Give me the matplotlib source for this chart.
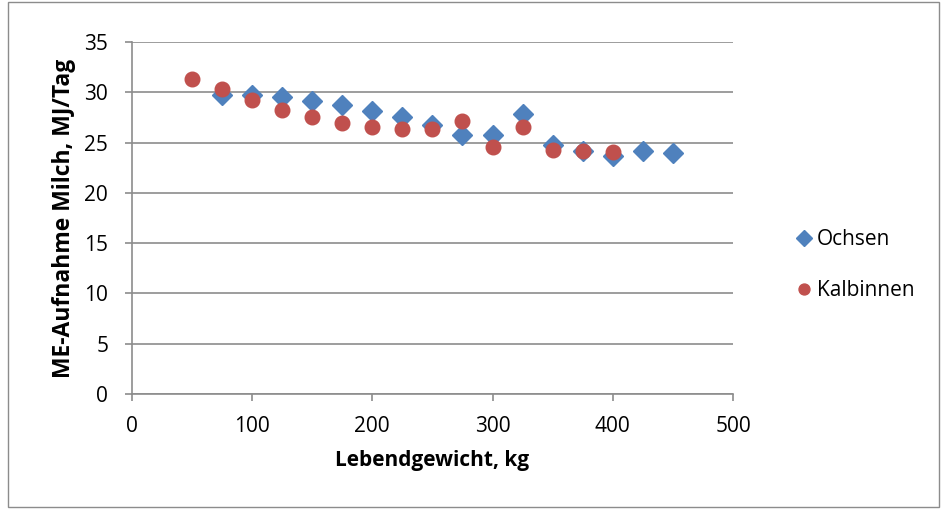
import matplotlib.pyplot as plt
from matplotlib.patches import Rectangle

plt.rcParams['font.family'] = ['Open Sans', 'DejaVu Sans']

# data
ochsen_x = [75, 100, 125, 150, 175, 200, 225, 250, 275, 300, 325, 350, 375, 400, 425, 450]
ochsen_y = [29.7, 29.7, 29.5, 29.1, 28.7, 28.1, 27.5, 26.7, 25.8, 25.8, 27.8, 24.8, 24.2, 23.7, 24.2, 24.0]
kalb_x = [50, 75, 100, 125, 150, 175, 200, 225, 250, 275, 300, 325, 350, 375, 400]
kalb_y = [31.3, 30.3, 29.2, 28.2, 27.5, 26.9, 26.55, 26.35, 26.35, 27.1, 24.6, 26.5, 24.3, 24.2, 24.1]

fig = plt.figure(figsize=(9.41, 5.09), dpi=100)
ax = fig.add_axes([0.140, 0.226, 0.639, 0.6915])

ax.plot(ochsen_x, ochsen_y, 'D', color='#4F81BD', markersize=10.5, label='Ochsen', zorder=3)
ax.plot(kalb_x, kalb_y, 'o', color='#C0504D', markersize=10.5, label='Kalbinnen', zorder=4)

ax.set_xlim(0, 500)
ax.set_ylim(0, 35)
ax.set_xticks(range(0, 501, 100))
ax.set_yticks(range(0, 36, 5))
ax.grid(axis='y', color='#8c8c8c', linewidth=1.2)
ax.set_axisbelow(True)
for s in ['top', 'right']:
    ax.spines[s].set_visible(False)
for s in ['left', 'bottom']:
    ax.spines[s].set_color('#8c8c8c')
    ax.spines[s].set_linewidth(1.2)
ax.tick_params(colors='#8c8c8c', labelcolor='black', labelsize=15, length=5, width=1.2)
ax.tick_params(axis='y', pad=12)
ax.tick_params(axis='x', pad=11)

ax.set_xlabel('Lebendgewicht, kg', fontsize=15, fontweight='bold', labelpad=9)
ax.set_ylabel('ME-Aufnahme Milch, MJ/Tag', fontsize=16.5, fontweight='bold', labelpad=6)

ax.legend(loc='center left', bbox_to_anchor=(1.07, 0.366), frameon=False, fontsize=15,
          handletextpad=0.1, labelspacing=1.45, handlelength=1.0, markerscale=0.75)

fig.patches.append(Rectangle((0.008, 0.004), 0.99, 0.992, transform=fig.transFigure,
                             fill=False, edgecolor='#8c8c8c', linewidth=1))

fig.savefig('out.png', dpi=100)
